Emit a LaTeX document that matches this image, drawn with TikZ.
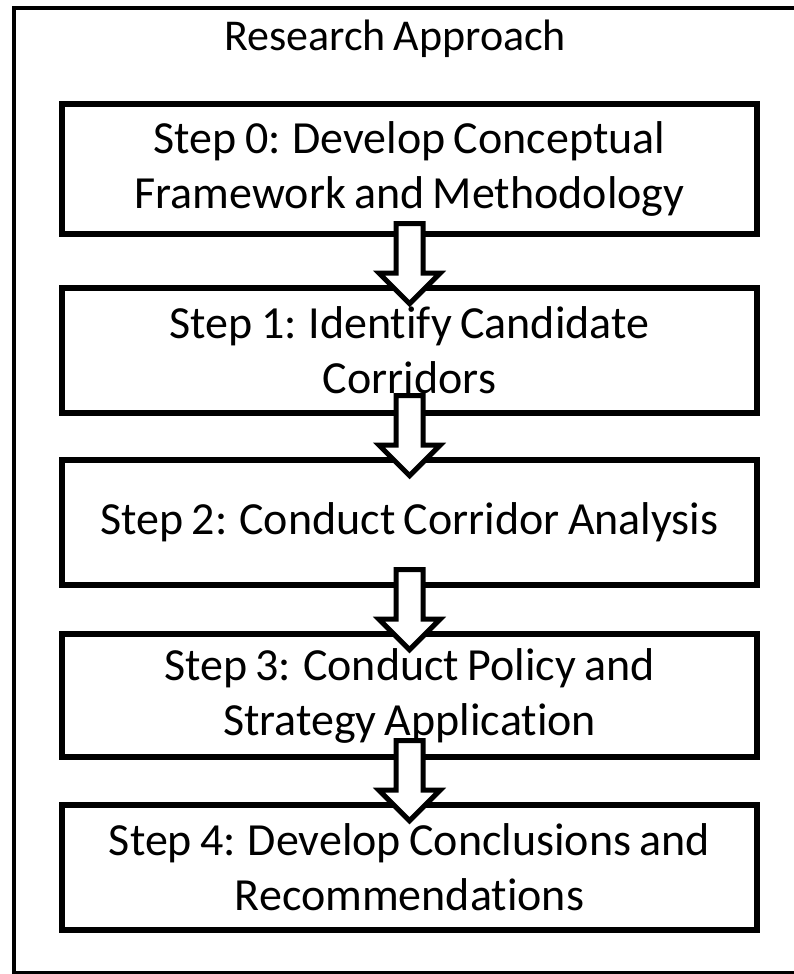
\documentclass[tikz,border=0pt]{standalone}
\usepackage{fontspec}
\setmainfont{Carlito}[Ligatures=NoCommon,WordSpace=0.8]
\usetikzlibrary{shapes.arrows,calc}
\begin{document}
\begin{tikzpicture}[x=1pt,y=-1pt,
  stepbox/.style={shape=rectangle,draw=black,line width=5.5pt,minimum width=695pt,minimum height=125pt,align=center,font=\fontsize{46}{55}\selectfont},
  downarrow/.style={single arrow,draw=black,fill=white,line width=5pt,shape border rotate=270,minimum height=80pt,inner sep=11pt,single arrow head extend=17pt,anchor=tip}]
  \useasboundingbox (0,0) rectangle (793,974);
  \draw[line width=4pt] (14,8.5) rectangle (797,973);
  \node[font=\fontsize{44}{52}\selectfont,anchor=base] (title) at (395,51) {Research Approach};
  \node[stepbox,minimum height=130pt] (s0) at (409.5,169) {Step 0: Develop Conceptual\\Framework and Methodology};
  \node[stepbox] (s1) at (409.5,350.5) {Step 1: Identify Candidate\\Corridors};
  \node[stepbox] (s2) at (409.5,522.5) {Step 2: Conduct Corridor Analysis};
  \node[stepbox,minimum height=123pt] (s3) at (409.5,695.5) {Step 3: Conduct Policy and\\Strategy Application};
  \node[stepbox] (s4) at (409.5,867.5) {Step 4: Develop Conclusions and\\Recommendations};
  % arrows between the steps
  \node[downarrow] (a1) at ($(s1.north)+(0,22)$) {};
  \node[downarrow] (a2) at ($(s2.north)+(0,22)$) {};
  \node[downarrow] (a3) at ($(s3.north)+(0,22)$) {};
  \node[downarrow] (a4) at ($(s4.north)+(0,22)$) {};
\end{tikzpicture}
\end{document}
